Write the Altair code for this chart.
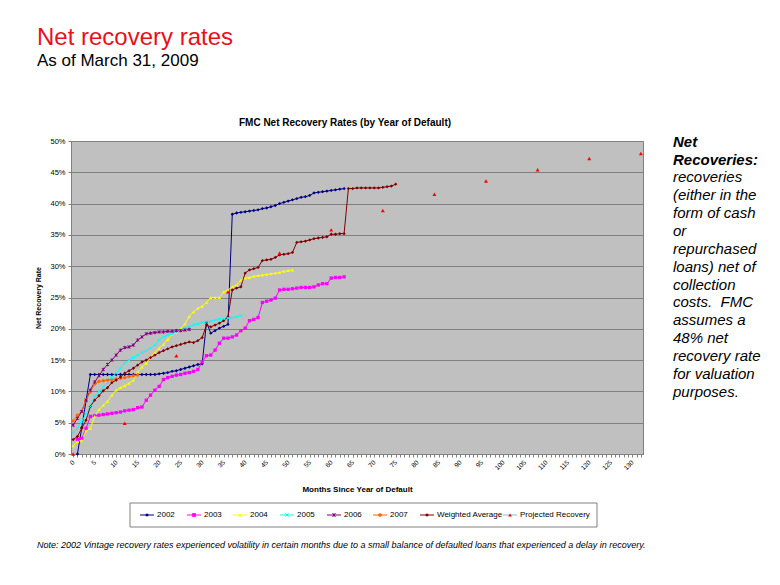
import altair as alt
import pandas as pd

# ---------------- data ----------------
months_2002 = list(range(1, 64))
rate_2002 = [0.0, 4.2, 8.5,
             12.7, 12.7, 12.7, 12.7, 12.7, 12.7, 12.7, 12.7, 12.7, 12.7, 12.7, 12.7, 12.7, 12.7, 12.7, 12.7,
             12.8, 12.9, 13.0, 13.2, 13.3, 13.5, 13.7, 13.9, 14.1, 14.3, 14.4,
             21.0, 19.3, 19.7, 20.1, 20.4, 20.7,
             38.3, 38.5, 38.6, 38.7, 38.8, 38.9, 39.0, 39.2, 39.3, 39.5, 39.7, 40.0, 40.2, 40.4,
             40.6, 40.8, 41.0, 41.1, 41.3, 41.7, 41.8, 41.9, 42.0, 42.1, 42.2, 42.3, 42.4]

months_2003 = list(range(1, 64))
rate_2003 = [2.3, 2.5, 4.1, 6.0, 6.1, 6.2, 6.3, 6.4, 6.5, 6.6, 6.7, 6.9, 7.0, 7.1, 7.4, 7.5,
             8.6, 9.4, 10.2, 10.8, 11.9, 12.2, 12.4, 12.6, 12.7, 12.9, 13.0, 13.2, 13.5, 14.7,
             15.7, 15.8, 16.6, 17.7, 18.5, 18.5, 18.7, 19.0, 19.7, 20.1, 21.3, 21.5, 21.8, 24.2,
             24.4, 24.6, 24.9, 26.2, 26.3, 26.3, 26.4, 26.5, 26.6, 26.6, 26.6, 26.7, 27.0, 27.2,
             27.2, 28.1, 28.2, 28.2, 28.3]

months_2004 = list(range(0, 52))
rate_2004 = [1.3, 2.0, 2.2, 3.7, 4.1, 6.0, 7.1, 7.8, 8.4, 9.4,
             10.2, 10.6, 10.9, 11.3, 11.8, 13.1, 13.9, 14.5, 15.5, 16.2,
             16.9, 17.5, 18.3, 19.1, 19.4, 20.0, 20.8, 22.0, 22.7, 23.3,
             23.6, 24.2, 25.0, 25.0, 25.0, 25.9, 26.2, 26.7, 27.0, 27.8,
             28.1, 28.2, 28.4, 28.5, 28.6, 28.7, 28.8, 28.9, 29.0, 29.2, 29.3, 29.4]

months_2005 = list(range(0, 40))
rate_2005 = [3.4, 4.1, 5.2, 6.4, 7.6, 9.2, 10.0, 10.7, 11.4, 12.2,
             12.9, 13.7, 14.5, 15.0, 15.4, 15.8, 16.2, 16.5, 16.9, 17.4,
             18.2, 18.7, 19.0, 19.2, 19.5, 19.8, 20.1, 20.3, 20.6, 20.8,
             21.0, 21.1, 21.2, 21.4, 21.5, 21.6, 21.7, 21.8, 21.9, 22.1]

months_2006 = list(range(0, 28))
rate_2006 = [4.6, 5.7, 6.8, 8.6, 10.2, 11.5, 12.5, 13.5, 14.3, 15.0,
             15.8, 16.6, 17.0, 17.1, 17.4, 18.2, 18.7, 19.2, 19.3, 19.4,
             19.5, 19.5, 19.6, 19.6, 19.7, 19.7, 19.8, 19.9]

months_2007 = list(range(0, 16))
rate_2007 = [5.3, 6.2, 6.8, 8.6, 9.9, 11.2, 11.6, 11.7, 11.8, 11.9, 12.0, 12.1, 12.2, 12.4, 12.5, 12.6]

months_wavg = list(range(0, 76))
rate_wavg = [2.3, 2.8, 4.1, 5.4, 7.6, 8.6, 9.3, 10.1, 10.6, 11.4,
             11.8, 12.3, 12.9, 13.3, 13.7, 14.2, 14.7, 15.0, 15.4, 15.8,
             16.2, 16.5, 16.8, 17.1, 17.3, 17.5, 17.7, 17.9, 17.8, 18.1,
             18.6, 20.6, 20.3, 20.6, 20.9, 21.3, 21.9, 26.2, 26.5, 26.7,
             28.9, 29.4, 29.6, 29.8, 30.9, 31.0, 31.1, 31.4, 31.8, 31.9,
             32.0, 32.2, 33.8, 33.9, 34.0, 34.2, 34.4, 34.5, 34.6, 34.7,
             35.1, 35.1, 35.2, 35.2, 42.4, 42.4, 42.5, 42.5, 42.5, 42.5,
             42.5, 42.5, 42.6, 42.7, 42.8, 43.1]

months_proj = [0, 12, 24, 36, 48, 60, 72, 84, 96, 108, 120, 132]
rate_proj = [0.0, 4.9, 15.7, 25.9, 32.1, 35.8, 38.9, 41.5, 43.6, 45.4, 47.2, 48.0]

series_names = ["2002", "2003", "2004", "2005", "2006", "2007", "Weighted Average", "Projected Recovery"]
series_colors = ["#000080", "#ff00ff", "#ffff00", "#00ffff", "#800080", "#ff6600", "#800000", "#ff0000"]
X_SHAPE = "M-1,-1L1,1M1,-1L-1,1"
STAR_SHAPE = "M-1,-1L1,1M1,-1L-1,1M0,-1.2L0,1.2"
series_shapes = ["diamond", "square", "triangle-up", X_SHAPE, STAR_SHAPE, "circle", "diamond", "triangle-up"]
legend_line_colors = ["#000080", "#ff00ff", "#ffff00", "#00ffff", "#800080", "#ff6600", "#800000", "#80c0e0"]

x_tick_values = list(range(0, 133))
y_tick_values = [0, 5, 10, 15, 20, 25, 30, 35, 40, 45, 50]

side_bold = ["Net", "Recoveries:"]
side_text = ["recoveries", "(either in the", "form of cash", "or", "repurchased", "loans) net of",
             "collection", "costs.\u00a0 FMC", "assumes a", "48% net", "recovery rate",
             "for valuation", "purposes."]

# ---------------- tables ----------------
rows = []
for name, ms, rs in [("2002", months_2002, rate_2002), ("2003", months_2003, rate_2003),
                     ("2004", months_2004, rate_2004), ("2005", months_2005, rate_2005),
                     ("2006", months_2006, rate_2006), ("2007", months_2007, rate_2007),
                     ("Weighted Average", months_wavg, rate_wavg)]:
    for m, r in zip(ms, rs):
        rows.append({"series": name, "month": m, "rate": r})
df = pd.DataFrame(rows)
df_proj = pd.DataFrame({"month": months_proj, "rate": rate_proj})

FONT = "Liberation Sans"
W, H = 572, 313

xscale = alt.Scale(domain=[-0.5, 132.5], nice=False, zero=False)
yscale = alt.Scale(domain=[0, 50], nice=False)
cscale = alt.Scale(domain=series_names, range=series_colors)
sscale = alt.Scale(domain=series_names, range=series_shapes)

xaxis = alt.Axis(values=x_tick_values, labelExpr="datum.value % 5 == 0 ? datum.value : ''",
                 labelAngle=-45, labelAlign="right", labelBaseline="middle", labelFontSize=6.5,
                 labelFont=FONT, labelColor="#000", labelOverlap=False, labelPadding=4,
                 labelBound=False, labelFlush=False,
                 tickSize=3, tickColor="#808080", domainColor="#808080", grid=False,
                 title="Months Since Year of Default", titleFont=FONT, titleFontSize=8,
                 titleFontWeight="bold", titleY=35, titleBaseline="middle", titleColor="#000")
yaxis = alt.Axis(values=y_tick_values, labelExpr="datum.value + '%'", labelFontSize=7.5,
                 labelFont=FONT, labelColor="#000", labelPadding=3, labelOverlap=False,
                 labelFlush=False,
                 tickSize=3, tickColor="#808080", domainColor="#808080",
                 grid=True, gridColor="#808080", gridWidth=1,
                 title="Net Recovery Rate", titleFont=FONT, titleFontSize=7,
                 titleFontWeight="bold", titlePadding=8, titleColor="#000")

base = alt.Chart(df).encode(
    x=alt.X("month:Q", scale=xscale, axis=xaxis),
    y=alt.Y("rate:Q", scale=yscale, axis=yaxis),
    color=alt.Color("series:N", scale=cscale, legend=None),
)
lines = base.mark_line(strokeWidth=1)
pts_filled = base.mark_point(filled=True, size=11, opacity=1).encode(
    shape=alt.Shape("series:N", scale=sscale, legend=None)
).transform_filter("datum.series != '2005' && datum.series != '2006'")
pts_stroked = base.mark_point(filled=False, size=8, strokeWidth=1, opacity=1).encode(
    shape=alt.Shape("series:N", scale=sscale, legend=None)
).transform_filter("datum.series == '2005' || datum.series == '2006'")
proj = alt.Chart(df_proj).mark_point(filled=True, size=16, shape="triangle-up", color="#ff0000",
                                     opacity=1).encode(
    x=alt.X("month:Q", scale=xscale, axis=xaxis), y=alt.Y("rate:Q", scale=yscale, axis=yaxis))

one = pd.DataFrame({"a": [0]})


def txt(s, x, y, **kw):
    return alt.Chart(one).mark_text(font=FONT, **kw).encode(
        x=alt.value(x), y=alt.value(y), text=alt.value(s))


layers = [lines, pts_filled, pts_stroked, proj]

# titles
layers.append(txt("Net recovery rates", -34, -96, fontSize=24, color="#e8101a", align="left",
                  baseline="alphabetic"))
layers.append(txt("As of March 31, 2009", -34, -75, fontSize=17, color="#000", align="left",
                  baseline="alphabetic"))
layers.append(txt("FMC Net Recovery Rates (by Year of Default)", 274, -15, fontSize=10,
                  fontWeight="bold", color="#000", align="center", baseline="alphabetic"))
layers.append(txt("Note: 2002 Vintage recovery rates experienced volatility in certain months due to a "
                  "small balance of defaulted loans that experienced a delay in recovery.",
                  -34, 407, fontSize=9, fontStyle="italic", color="#000", align="left",
                  baseline="alphabetic"))

# side text
for i, s in enumerate(side_bold + side_text):
    bold = i < len(side_bold)
    layers.append(txt(s, 602, 5.7 + 17.86 * i, fontSize=15, fontStyle="italic",
                      fontWeight="bold" if bold else "normal", color="#000", align="left",
                      baseline="alphabetic"))

# legend box
layers.append(alt.Chart(one).mark_rect(fill="white", stroke="#808080", strokeWidth=1).encode(
    x=alt.value(59), x2=alt.value(526), y=alt.value(362), y2=alt.value(386)))
leg_x = [69, 116, 162, 209, 256, 302, 349, 432]
LY = 374
for i, name in enumerate(series_names):
    x0 = leg_x[i]
    layers.append(alt.Chart(one).mark_rule(color=legend_line_colors[i], strokeWidth=1).encode(
        x=alt.value(x0), x2=alt.value(x0 + 14), y=alt.value(LY)))
    shp = series_shapes[i]
    if name in ("2005", "2006"):
        mk = alt.Chart(one).mark_point(shape=shp, filled=False, size=10, color=series_colors[i],
                                       strokeWidth=1, opacity=1)
    else:
        mk = alt.Chart(one).mark_point(shape=shp, filled=True, size=14, color=series_colors[i],
                                       opacity=1)
    layers.append(mk.encode(x=alt.value(x0 + 7), y=alt.value(LY)))
    layers.append(txt(name, x0 + 17, LY, fontSize=8, color="#000", align="left", baseline="middle"))

chart = alt.layer(*layers).properties(
    width=W, height=H,
    autosize=alt.AutoSizeParams(type="none"),
    padding={"left": 63, "top": 133, "right": 120, "bottom": 105},
    background="white",
).configure_view(fill="#c0c0c0", stroke="#808080", strokeWidth=1)

chart.save("out.html", embed_options={"renderer": "svg", "actions": False})
